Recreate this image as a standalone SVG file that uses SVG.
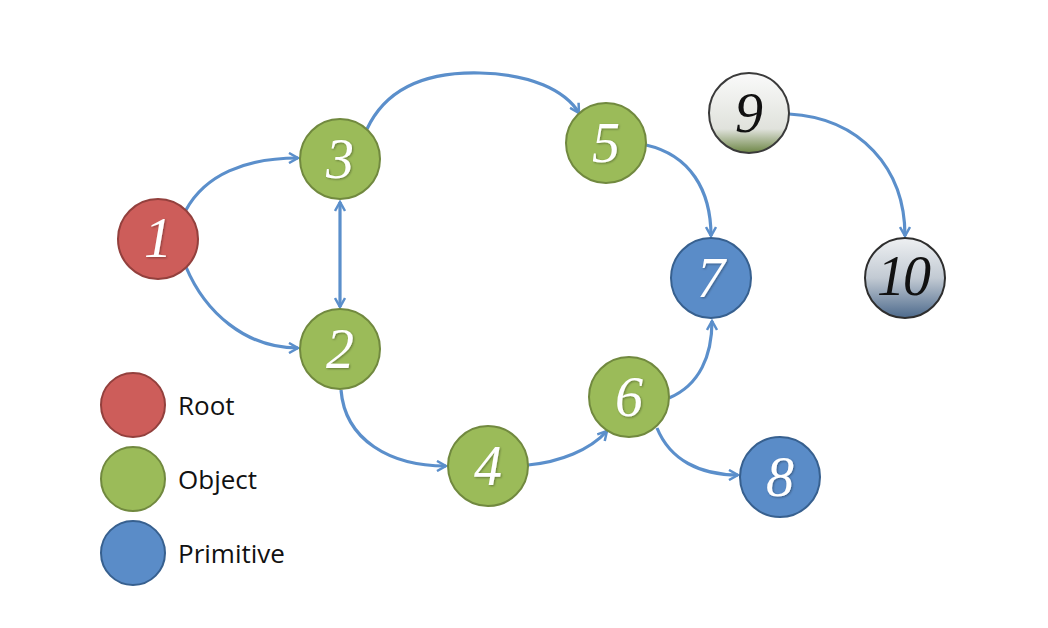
<svg xmlns="http://www.w3.org/2000/svg" width="1048" height="628" viewBox="0 0 1048 628">
  <defs>
    <marker id="arr" viewBox="0 0 12 12" refX="10" refY="6" markerWidth="12" markerHeight="12" markerUnits="userSpaceOnUse" orient="auto-start-reverse">
      <path d="M1,1 L10,6 L1,11" fill="none" stroke="#5b8fcb" stroke-width="2.5" stroke-linejoin="miter"/>
    </marker>
    <linearGradient id="g9" x1="0" y1="0" x2="0" y2="1">
      <stop offset="0" stop-color="#fafafa"/>
      <stop offset="0.7" stop-color="#e0e2dc"/>
      <stop offset="1" stop-color="#6d8645"/>
    </linearGradient>
    <linearGradient id="g10" x1="0" y1="0" x2="0" y2="1">
      <stop offset="0" stop-color="#eef0f2"/>
      <stop offset="0.5" stop-color="#c2cad3"/>
      <stop offset="1" stop-color="#4d6a8c"/>
    </linearGradient>
    <filter id="sh" x="-20%" y="-20%" width="140%" height="140%">
      <feDropShadow dx="1" dy="1" stdDeviation="0.8" flood-color="#000" flood-opacity="0.35"/>
    </filter>
  </defs>
  <style>
    .edge { fill: none; stroke: #5b8fcb; stroke-width: 3.2; }
    .root { fill: #cd5d5a; stroke: #93403d; stroke-width: 2; }
    .obj { fill: #9bbb59; stroke: #71893f; stroke-width: 2; }
    .prim { fill: #5a8cc8; stroke: #37608f; stroke-width: 2; }
    .num { font-family: "Liberation Serif", "DejaVu Serif", serif; font-style: italic; font-size: 56px; fill: #ffffff; text-anchor: middle; }
    .dark { fill: #111111; filter: none; }
    .leg { font-family: "Open Sans", "Liberation Sans", sans-serif; font-size: 26px; fill: #111111; }
  </style>
  <rect width="1048" height="628" fill="#ffffff"/>

  <g id="connectors">
    <path class="edge" d="M186,210 C205,175 245,158 298,158" marker-end="url(#arr)"/>
    <path class="edge" d="M186,267 C205,312 245,348 298,348" marker-end="url(#arr)"/>
    <path class="edge" d="M340,202 L340,307" marker-start="url(#arr)" marker-end="url(#arr)"/>
    <path class="edge" d="M367,129 C390,80 440,72 480,73 C530,74 565,90 579,113" marker-end="url(#arr)"/>
    <path class="edge" d="M646,145 C690,155 711,190 711,236" marker-end="url(#arr)"/>
    <path class="edge" d="M341,390 C345,440 390,466 446,466" marker-end="url(#arr)"/>
    <path class="edge" d="M528,465 C560,462 590,450 607,431" marker-end="url(#arr)"/>
    <path class="edge" d="M669,398 C700,385 712,355 712,321" marker-end="url(#arr)"/>
    <path class="edge" d="M657,428 C670,460 700,475 738,475" marker-end="url(#arr)"/>
    <path class="edge" d="M789,114 C860,118 905,168 905,236" marker-end="url(#arr)"/>
  </g>

  <g id="node1">
    <circle class="root" cx="158" cy="239" r="40"/>
    <text class="num" x="158" y="257" filter="url(#sh)">1</text>
  </g>
  <g id="node3">
    <circle class="obj" cx="340" cy="159" r="40"/>
    <text class="num" x="340" y="178" filter="url(#sh)">3</text>
  </g>
  <g id="node2">
    <circle class="obj" cx="340" cy="349" r="40"/>
    <text class="num" x="340" y="368" filter="url(#sh)">2</text>
  </g>
  <g id="node5">
    <circle class="obj" cx="606" cy="143" r="40"/>
    <text class="num" x="606" y="162" filter="url(#sh)">5</text>
  </g>
  <g id="node7">
    <circle class="prim" cx="711" cy="278" r="40"/>
    <text class="num" x="711" y="297" filter="url(#sh)">7</text>
  </g>
  <g id="node4">
    <circle class="obj" cx="488" cy="466" r="40"/>
    <text class="num" x="488" y="485" filter="url(#sh)">4</text>
  </g>
  <g id="node6">
    <circle class="obj" cx="629" cy="397" r="40"/>
    <text class="num" x="629" y="416" filter="url(#sh)">6</text>
  </g>
  <g id="node8">
    <circle class="prim" cx="780" cy="477" r="40"/>
    <text class="num" x="780" y="496" filter="url(#sh)">8</text>
  </g>
  <g id="node9">
    <circle cx="749" cy="113" r="40" fill="url(#g9)" stroke="#3a3a3a" stroke-width="2"/>
    <text class="num dark" x="749" y="132">9</text>
  </g>
  <g id="node10">
    <circle cx="905" cy="278" r="40" fill="url(#g10)" stroke="#2e2e2e" stroke-width="2"/>
    <text class="num dark" x="903" y="295" letter-spacing="-2">10</text>
  </g>

  <g id="legend">
    <g id="legend-root">
      <circle class="root" cx="133" cy="405" r="32"/>
      <text class="leg" x="178" y="415">Root</text>
    </g>
    <g id="legend-object">
      <circle class="obj" cx="133" cy="479" r="32"/>
      <text class="leg" x="178" y="489">Object</text>
    </g>
    <g id="legend-primitive">
      <circle class="prim" cx="133" cy="553" r="32"/>
      <text class="leg" x="178" y="563">Primitive</text>
    </g>
  </g>
</svg>
